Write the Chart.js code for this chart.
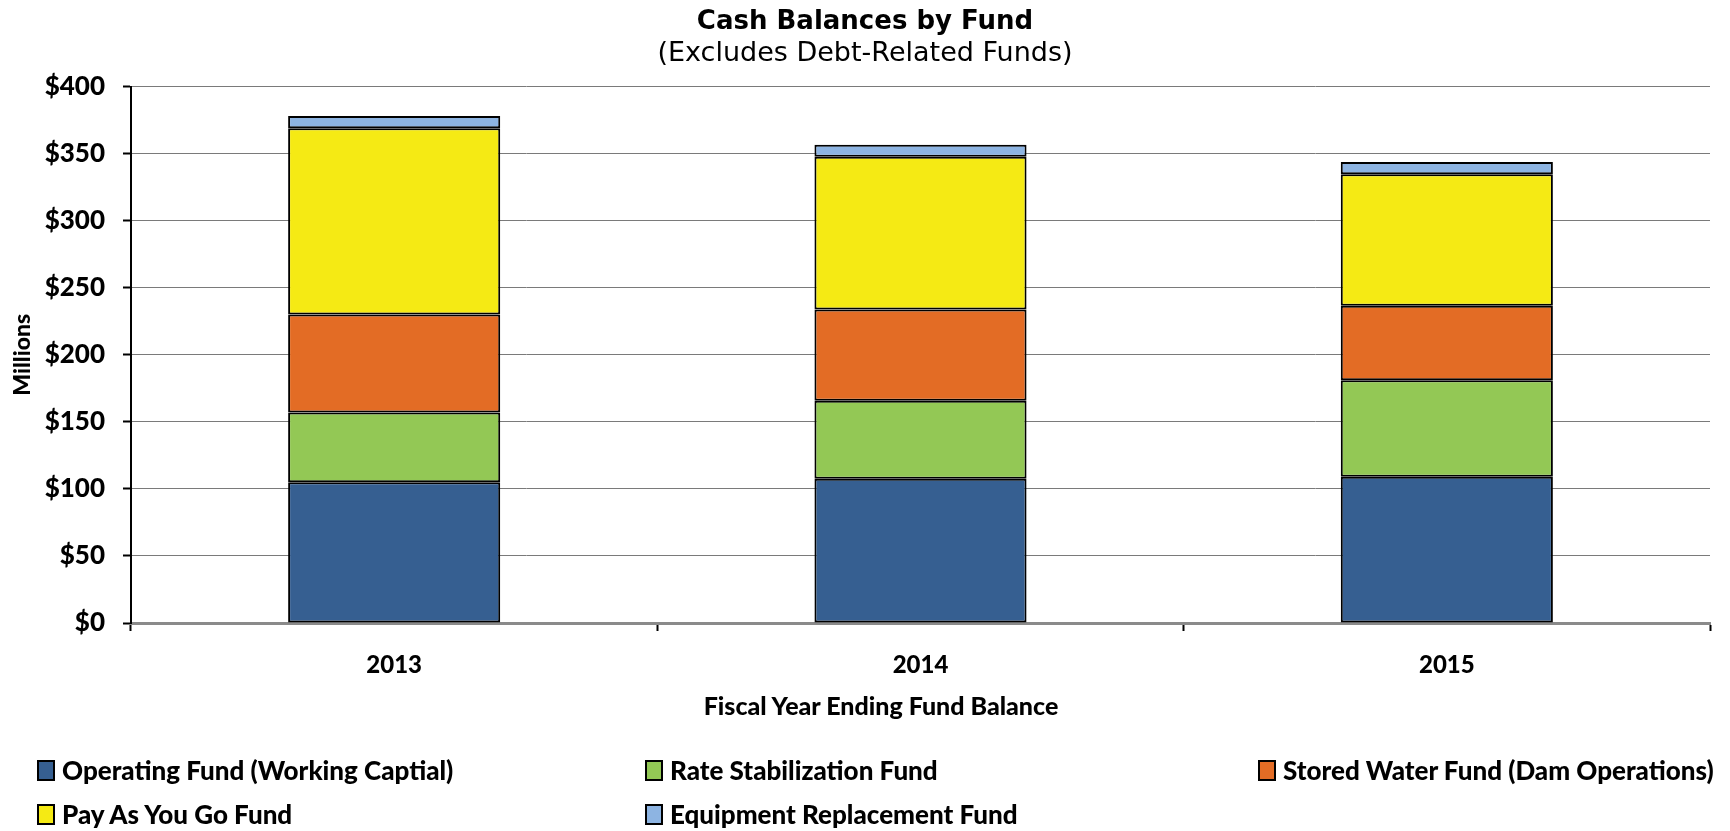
<!DOCTYPE html>
<html>
<head>
<meta charset="utf-8">
<script src="https://cdn.jsdelivr.net/npm/chart.js@4.4.1/dist/chart.umd.min.js"></script>
<style>
    html, body { margin: 0; padding: 0; background: #fff; }
    #wrap { position: relative; width: 1730px; height: 831px; }
    #myChart { position: absolute; left: 0; top: 0; }
    #xTitle {
        position: absolute; left: 581px; width: 600px; top: 690px; text-align: center;
        font-family: Lato, sans-serif; font-weight: 900; font-size: 25px; color: #000;
    }
    #legend {
        position: absolute; left: 37px; top: 756px; width: 1693px;
        display: grid; grid-template-columns: 608px 613px 472px; row-gap: 16px;
        font-family: Lato, sans-serif; font-weight: 900; font-size: 26px; color: #000;
    }
    .item { display: flex; align-items: center; height: 28px; white-space: nowrap; }
    .box { width: 14px; height: 17px; border: 2px solid #000; margin-right: 7px; }
</style>
</head>
<body>
<div id="wrap">
    <canvas id="myChart" width="1730" height="831"></canvas>
    <div id="xTitle">Fiscal Year Ending Fund Balance</div>
    <div id="legend"></div>
</div>
<script>
// fiscal years
const years = ['2013', '2014', '2015'];

// fund balances, $ millions
const operatingFund = [105, 107.5, 109];
const rateStabilization = [52, 58.3, 72];
const storedWater = [73, 68, 55.5];
const payAsYouGo = [139, 113.8, 98.2];
const equipmentReplacement = [9, 9, 9];

const fundNames = [
    'Operating Fund (Working Captial)',
    'Rate Stabilization Fund',
    'Stored Water Fund (Dam Operations)',
    'Pay As You Go Fund',
    'Equipment Replacement Fund'
];
const fundColors = ['#365F91', '#93C855', '#E36C25', '#F5EA14', '#8DB4E2'];

const yTicks = [0, 50, 100, 150, 200, 250, 300, 350, 400];

const fundValues = [operatingFund, rateStabilization, storedWater, payAsYouGo, equipmentReplacement];

const datasets = fundNames.map((name, i) => ({
    label: name,
    data: fundValues[i],
    backgroundColor: fundColors[i],
    borderColor: '#000',
    borderWidth: 2,
    borderSkipped: false,
    barPercentage: 0.403,
    categoryPercentage: 1
}));

const ctx = document.getElementById('myChart').getContext('2d');
const myChart = new Chart(ctx, {
    type: 'bar',
    data: {
        labels: years,
        datasets: datasets
    },
    options: {
        responsive: false,
        animation: false,
        layout: {
            padding: { left: 20, right: 20, top: 0, bottom: 108 }
        },
        plugins: {
            legend: { display: false },
            tooltip: { enabled: false },
            title: {
                display: true,
                text: 'Cash Balances by Fund',
                color: '#000',
                font: { family: 'DejaVu Sans', weight: 'bold', size: 26 },
                padding: { top: 7, bottom: 0 }
            },
            subtitle: {
                display: true,
                text: '(Excludes Debt-Related Funds)',
                color: '#000',
                font: { family: 'DejaVu Sans', size: 27 },
                padding: { top: 0, bottom: 16 }
            }
        },
        scales: {
            x: {
                stacked: true,
                grid: {
                    display: true,
                    drawOnChartArea: false,
                    drawTicks: true,
                    tickLength: 8,
                    tickColor: '#000',
                    tickWidth: 2
                },
                border: { color: '#8a8a8a', width: 3 },
                ticks: {
                    color: '#000',
                    padding: 20,
                    font: { family: 'Lato', weight: '900', size: 24 }
                },
                afterFit: function(scale) { scale.height = 100; }
            },
            y: {
                stacked: true,
                min: 0,
                max: 400,
                grid: {
                    color: '#7a7a7a',
                    lineWidth: 1,
                    tickLength: 8,
                    tickColor: '#000',
                    tickWidth: 2
                },
                border: { color: '#000', width: 2 },
                afterBuildTicks: function(scale) {
                    scale.ticks = yTicks.map(v => ({ value: v }));
                },
                ticks: {
                    color: '#000',
                    padding: 18,
                    font: { family: 'Lato', weight: '900', size: 26 },
                    callback: v => '$' + v
                },
                title: {
                    display: true,
                    text: 'Millions',
                    color: '#000',
                    font: { family: 'Lato', weight: '900', size: 23 },
                    padding: { top: -11, bottom: 0 }
                },
                afterFit: function(scale) { scale.width = 111; }
            }
        }
    }
});

// legend in three columns like the original
const legendDiv = document.getElementById('legend');
fundNames.forEach((name, i) => {
    const item = document.createElement('div');
    item.className = 'item';
    const box = document.createElement('span');
    box.className = 'box';
    box.style.background = fundColors[i];
    item.appendChild(box);
    item.appendChild(document.createTextNode(name));
    legendDiv.appendChild(item);
});
</script>
</body>
</html>
